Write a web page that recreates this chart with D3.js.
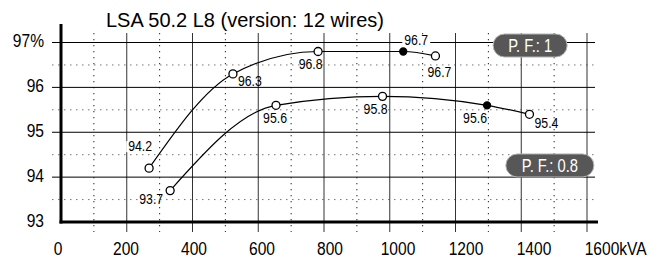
<!DOCTYPE html>
<html>
<head>
<meta charset="utf-8">
<script src="https://cdn.jsdelivr.net/npm/d3@7"></script>
<style>
  body { margin: 0; background: #fff; }
  svg { display: block; font-family: "Liberation Sans", Arial, sans-serif; }
</style>
</head>
<body>
<svg id="chart" width="662" height="260"></svg>
<script>
// efficiency curves
var pf1Kva = [268, 523, 782, 1041, 1139];
var pf1Eff = [94.2, 96.3, 96.8, 96.8, 96.7];
var pf1Labels = ["94.2", "96.3", "96.8", "96.7", "96.7"];
var pf1Filled = [false, false, false, true, false];

var pf08Kva = [332, 654, 978, 1296, 1425];
var pf08Eff = [93.7, 95.6, 95.8, 95.6, 95.4];
var pf08Labels = ["93.7", "95.6", "95.8", "95.6", "95.4"];
var pf08Filled = [false, false, false, true, false];

var xTicks = [0, 200, 400, 600, 800, 1000, 1200, 1400, 1600];
var yTicks = [93, 94, 95, 96, 97];
var title = "LSA 50.2 L8 (version: 12 wires)";

var svg = d3.select('#chart');
var NARROW = 0.82;

var x = d3.scaleLinear().domain([0, 1600]).range([61, 587]);
var y = d3.scaleLinear().domain([93, 97]).range([222, 42.5]);
// tick labels in the original are spread slightly wider than the grid
var xLabel = d3.scaleLinear().domain([0, 1600]).range([58, 602]);

// condensed text: Liberation Sans squeezed horizontally
function narrowText(parent, px, py, str, size, anchor) {
    var t = parent.append('text')
        .attr('transform', 'translate(' + px + ',' + py + ') scale(' + NARROW + ',1)')
        .attr('font-size', size)
        .attr('text-anchor', anchor || 'start')
        .text(str);
    return t;
}

// grid
var grid = svg.append('g');
var minor = d3.range(100, 1600, 200);
grid.selectAll('.vdot').data(minor).enter().append('line')
    .attr('x1', d => x(d)).attr('x2', d => x(d))
    .attr('y1', y(97) - 9.5).attr('y2', y(93) + 10)
    .attr('stroke', '#222').attr('stroke-width', 1)
    .attr('stroke-dasharray', '1.3,4.7');
grid.selectAll('.hdot').data([93.5, 94.5, 95.5, 96.5]).enter().append('line')
    .attr('x1', x(0) - 9).attr('x2', x(1600) + 8)
    .attr('y1', d => y(d)).attr('y2', d => y(d))
    .attr('stroke', '#777').attr('stroke-width', 1)
    .attr('stroke-dasharray', '1.5,4.5');
grid.selectAll('.vmaj').data(xTicks.slice(1)).enter().append('line')
    .attr('x1', d => x(d)).attr('x2', d => x(d))
    .attr('y1', y(97) - 9.5).attr('y2', y(93) + 10)
    .attr('stroke', '#333').attr('stroke-width', 1);
grid.selectAll('.hmaj').data(yTicks.slice(1)).enter().append('line')
    .attr('x1', x(0) - 9).attr('x2', x(1600) + 8)
    .attr('y1', d => y(d)).attr('y2', d => y(d))
    .attr('stroke', '#000').attr('stroke-width', 1);

// axes
svg.append('line')
    .attr('x1', x(0)).attr('x2', x(0)).attr('y1', 24).attr('y2', y(93) + 1.5)
    .attr('stroke', '#000').attr('stroke-width', 3);
svg.append('line')
    .attr('x1', x(0) - 1.5).attr('x2', x(1600) + 11).attr('y1', y(93)).attr('y2', y(93))
    .attr('stroke', '#000').attr('stroke-width', 3);

// tick labels
var yl = svg.append('g');
yTicks.forEach(function(d) {
    narrowText(yl, 44, y(d) + 4.5, d === 97 ? '97%' : String(d), 19, 'end');
});

var xl = svg.append('g');
xTicks.forEach(function(d) {
    var t = narrowText(xl, 0, 255, String(d), 19, 'start');
    var w = t.node().getComputedTextLength() * NARROW;
    t.attr('transform', 'translate(' + (xLabel(d) - w / 2) + ',255) scale(' + NARROW + ',1)');
    if (d === 1600) t.append('tspan').text('kVA');
});

// title
svg.append('text')
    .attr('x', 106).attr('y', 27)
    .attr('font-size', 20)
    .text(title);

// curves
var line = d3.line()
    .x(d => x(d[0]))
    .y(d => y(d[1]))
    .curve(d3.curveMonotoneX);

// label offsets (pixels) relative to each marker: [dx, dy, anchor]
var pf1Offsets = [[3, -22, 'end'], [5, 7, 'start'], [-7.5, 13, 'middle'], [13, -11, 'middle'], [4, 16, 'middle']];
var pf08Offsets = [[-7, 8, 'end'], [-1, 13, 'middle'], [-7, 13, 'middle'], [-12, 13, 'middle'], [5, 9, 'start']];

function drawSeries(kva, eff, labels, filled, offsets) {
    var pts = kva.map((k, i) => [k, eff[i]]);
    var g = svg.append('g');
    g.append('path')
        .attr('d', line(pts))
        .attr('fill', 'none')
        .attr('stroke', '#000')
        .attr('stroke-width', 1.2);

    // labels
    pts.forEach(function(p, i) {
        var o = offsets[i];
        var t = narrowText(g, x(p[0]) + o[0], y(p[1]) + o[1] + 5, labels[i], 15, o[2]);
        if (o[1] < 0) {
            var b = t.node().getBBox();
            var cx = x(p[0]) + o[0];
            var w = b.width * NARROW;
            var left = o[2] === 'end' ? cx - w : (o[2] === 'middle' ? cx - w / 2 : cx);
            g.insert('rect', function() { return t.node(); })
                .attr('x', left - 2).attr('y', y(p[1]) + o[1] - 5)
                .attr('width', w + 4).attr('height', 11)
                .attr('fill', '#fff');
        }
    });

    g.selectAll('circle').data(pts).enter().append('circle')
        .attr('cx', d => x(d[0]))
        .attr('cy', d => y(d[1]))
        .attr('r', (d, i) => filled[i] ? 3.5 : 4)
        .attr('fill', (d, i) => filled[i] ? '#000' : '#fff')
        .attr('stroke', '#000')
        .attr('stroke-width', 1.3);
}

drawSeries(pf1Kva, pf1Eff, pf1Labels, pf1Filled, pf1Offsets);
drawSeries(pf08Kva, pf08Eff, pf08Labels, pf08Filled, pf08Offsets);

// power factor tags
function pill(cx, cy, w, label) {
    var g = svg.append('g');
    g.append('rect')
        .attr('x', x(cx) - w / 2).attr('y', y(cy) - 11.5)
        .attr('width', w).attr('height', 23)
        .attr('rx', 11.5)
        .attr('fill', '#575757')
        .attr('stroke', '#b5b5b5').attr('stroke-width', 1);
    narrowText(g, x(cx), y(cy) + 6.5, label, 18, 'middle').attr('fill', '#fff');
}
pill(1427, 96.933, 74, 'P. F.: 1');
pill(1487, 94.26, 88, 'P. F.: 0.8');
</script>
</body>
</html>
